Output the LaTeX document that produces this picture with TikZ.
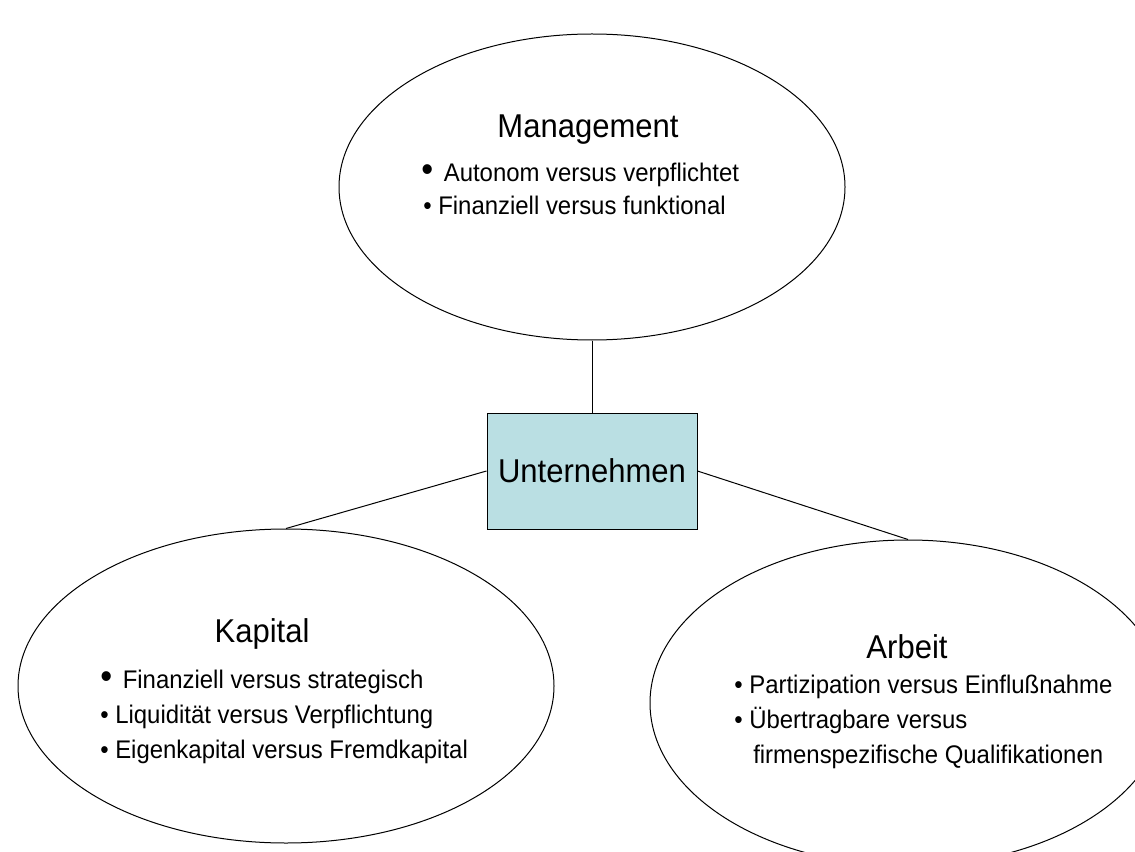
\documentclass[tikz,border=0pt]{standalone}
\usepackage{fontspec}
\setmainfont[FakeStretch=0.94]{Liberation Sans}
\usetikzlibrary{shapes.geometric}

\definecolor{firmfill}{RGB}{186,223,227}
\newcommand{\bigdot}{{\fontsize{27}{27}\selectfont\textbullet}\hspace{8pt}}

\begin{document}
\begin{tikzpicture}[x=0.75pt,y=0.75pt,yscale=-1,xscale=1,
	oval/.style={draw, ellipse, line width=0.75pt, inner sep=0pt},
	head/.style={anchor=base, inner sep=0pt, font=\fontsize{24.75}{29}\selectfont},
	item/.style={anchor=base west, inner sep=0pt, font=\fontsize{19.1}{23}\selectfont}]
	%set diagram size 1135 x 852
	\clip (0,0) rectangle (1135,852);
	
	%Shape: Ellipse [Management]
	\node[oval, minimum width=379.5pt, minimum height=229.5pt] (mgmt) at (592,187) {};
	%Shape: Ellipse [Kapital]
	\node[oval, minimum width=402pt, minimum height=235.5pt] (kap) at (286,686) {};
	%Shape: Ellipse [Arbeit]
	\node[oval, minimum width=387pt, minimum height=244.5pt] (arb) at (908,703) {};
	%Shape: Rectangle [Unternehmen]
	\node[draw, fill=firmfill, line width=0.75pt, minimum width=157.5pt, minimum height=87pt,
		font=\fontsize{24.75}{29}\selectfont] (firm) at (592,471) {Unternehmen};
	
	%Straight Lines
	\draw[line width=0.75pt] (mgmt.south) -- (firm.north);
	\draw[line width=0.75pt] (firm.west) -- (kap.north);
	\draw[line width=0.75pt] (firm.east) -- (arb.north);
	
	% Text Node
	\node[head] (mgmttitle) at (588,138) {Management};
	\node[item] (m1) at (421,182) {\bigdot Autonom versus verpflichtet};
	\node[item] (m2) at (423,215) {\textbullet\ Finanziell versus funktional};
	% Text Node
	\node[head] (kaptitle) at (262,642) {Kapital};
	\node[item] (k1) at (100,688) {\bigdot Finanziell versus strategisch};
	\node[item] (k2) at (100,723) {\textbullet\ Liquidität versus Verpflichtung};
	\node[item] (k3) at (100,758) {\textbullet\ Eigenkapital versus Fremdkapital};
	% Text Node
	\node[head] (arbtitle) at (907,658) {Arbeit};
	\node[item] (a1) at (734,693) {\textbullet\ Partizipation versus Einflußnahme};
	\node[item] (a2) at (734,728) {\textbullet\ Übertragbare versus};
	\node[item] (a3) at (753,763) {firmenspezifische Qualifikationen};
	
\end{tikzpicture}
\end{document}
